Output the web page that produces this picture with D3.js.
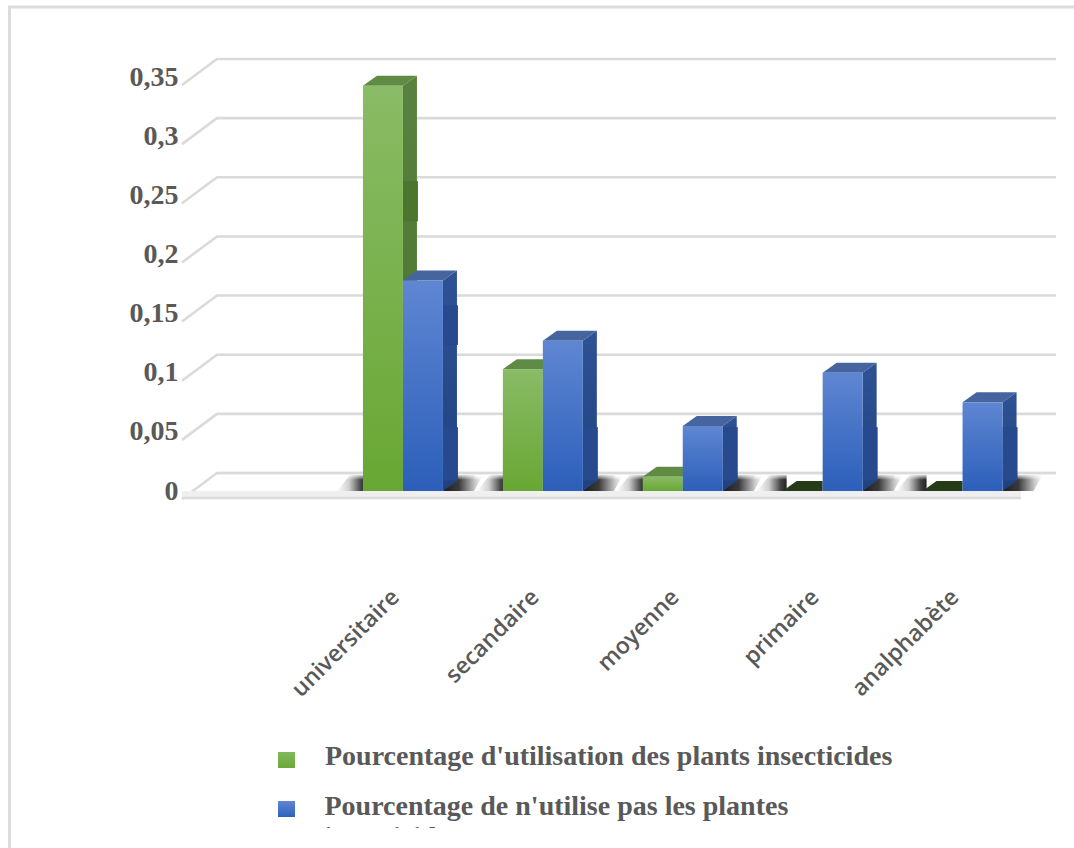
<!DOCTYPE html>
<html><head><meta charset="utf-8">
<script src="https://cdn.jsdelivr.net/npm/d3@7"></script>
<style>html,body{margin:0;padding:0;background:#fff;overflow:hidden}svg{display:block}</style>
</head><body><div id="c"></div>
<script>
const categories = ["universitaire","secandaire","moyenne","primaire","analphabète"];
const usePct = [0.3425,0.103,0.012,0,0];
const noUsePct = [0.178,0.127,0.055,0.1,0.075];
const tickValues = [0,0.05,0.1,0.15,0.2,0.25,0.3,0.35];
const tickLabels = ["0","0,05","0,1","0,15","0,2","0,25","0,3","0,35"];
const legendLines = [["Pourcentage d'utilisation des plants insecticides"],["Pourcentage de n'utilise pas les plantes","insecticides"]];
const seamBands = [[0.228,0.262],[0.1235,0.157],[0.009,0.054]];

const W=1074,H=848;
const svg=d3.select("#c").append("svg").attr("width",W).attr("height",H);
const defs=svg.append("defs");
function grad(id,a,b,x){const g=defs.append("linearGradient").attr("id",id).attr("x1",0).attr("y1",0).attr("x2",x?1:0).attr("y2",x?0:1);
 g.append("stop").attr("offset",0).attr("stop-color",a);g.append("stop").attr("offset",1).attr("stop-color",b);}
function gradMid(id,stops){const g=defs.append("linearGradient").attr("id",id).attr("x1",0).attr("y1",0).attr("x2",1).attr("y2",0);
 stops.forEach(([o,c])=>g.append("stop").attr("offset",o).attr("stop-color",c));}
const styles=[
 {id:"g",front:["#8abb66","#68a733"],side:["#598240","#46722a"],patch:"#4a762d",top:"#5f8b45",vals:usePct,swatch:["#82b85c","#6aa83a"]},
 {id:"b",front:["#5f86d2","#2c5fba"],side:["#2f5296","#1f427f"],patch:"#27498e",top:"#46659f",vals:noUsePct,swatch:["#5f86d2","#2f62bc"]}
];
styles.forEach(s=>{grad(s.id+"f",s.front[0],s.front[1]);grad(s.id+"s",s.side[0],s.side[1]);grad(s.id+"l",s.swatch[0],s.swatch[1]);});
gradMid("shR",[[0,"#1e1e1e"],[0.4,"#3a3a3a"],[0.8,"#c8c8c8"],[1,"#fff"]]);
gradMid("shL",[[0,"#fff"],[0.4,"#d0d0d0"],[0.8,"#444"],[1,"#222"]]);
const fade=defs.append("linearGradient").attr("id","fade").attr("x1",0).attr("y1",0).attr("x2",0).attr("y2",1);
fade.append("stop").attr("offset",0).attr("stop-color","#fff").attr("stop-opacity",0.8);
fade.append("stop").attr("offset",0.3).attr("stop-color","#fff").attr("stop-opacity",0);

// page frame
svg.append("rect").attr("x",9.5).attr("y",7).attr("width",W+20).attr("height",H+20).attr("fill","#fff").attr("stroke","#dcdcdc").attr("stroke-width",3);

const yBack=d3.scaleLinear().domain([0,0.35]).range([473,59]);
const yBar=d3.scaleLinear().domain([0,0.35]).range([491,77]);
const xBand=d3.scaleBand().domain(categories).range([333,1032.5]);
const barW=40,dx=14,dy=10,gridL=217,gridR=1056,diagX=35,diagY=26;

// walls & floor
const grid=svg.append("g").attr("fill","none").attr("stroke","#dadada").attr("stroke-width",2.6);
tickValues.forEach(v=>{
 grid.append("path").attr("d",`M${gridL-diagX},${yBack(v)+diagY}L${gridL},${yBack(v)}L${gridR},${yBack(v)}`);
});
const y0=yBack(0);
svg.append("rect").attr("x",gridL-diagX).attr("y",yBar(0)).attr("width",gridR-gridL).attr("height",7).attr("fill","#efefef");
svg.append("line").attr("x1",gridL-diagX).attr("x2",gridR-diagX).attr("y1",y0+diagY-1).attr("y2",y0+diagY-1).attr("stroke","#dadada").attr("stroke-width",2.4);

// floor shadows
const b0=yBar(0);
categories.forEach(c=>{
 const cx=xBand(c)+xBand.bandwidth()/2;
 const L=cx-barW,R=cx+barW;
 svg.append("path").attr("d",`M${L-26},${b0}L${L-13},${b0-16}L${L+4},${b0-16}L${L+4},${b0}Z`).attr("fill","url(#shL)");
 svg.append("path").attr("d",`M${R},${b0}L${R+14},${b0-16}L${R+40},${b0-16}L${R+31},${b0}Z`).attr("fill","url(#shR)");
 svg.append("rect").attr("x",L-28).attr("y",b0-16).attr("width",barW*2+70).attr("height",16).attr("fill","url(#fade)");
});
svg.append("line").attr("x1",gridL).attr("x2",gridR).attr("y1",y0).attr("y2",y0).attr("stroke","#dadada").attr("stroke-width",2.6);

// bars
const bars=svg.append("g");
categories.forEach((c,i)=>{
 const cx=xBand(c)+xBand.bandwidth()/2;
 styles.forEach((s,k)=>{
  const v=s.vals[i],x=cx-barW+k*barW,top=yBar(v),g=bars.append("g");
  if(v===0){
   g.append("path").attr("d",`M${x},${b0}L${x+dx},${b0-dy}L${x+barW},${b0-dy}L${x+barW},${b0}Z`).attr("fill","#263b18");
   return;
  }
  g.append("path").attr("d",`M${x},${top}L${x+dx},${top-dy}L${x+barW+dx},${top-dy}L${x+barW},${top}Z`).attr("fill",s.top);
  g.append("path").attr("d",`M${x+barW},${top}L${x+barW+dx},${top-dy}L${x+barW+dx},${b0-dy}L${x+barW},${b0}Z`).attr("fill",`url(#${s.id}s)`);
  seamBands.forEach(([lo,hi])=>{
   if(v<hi) return;
   g.append("rect").attr("x",x+barW).attr("y",yBar(hi)).attr("width",dx+1).attr("height",yBar(lo)-yBar(hi)).attr("fill",s.patch);
  });
  g.append("rect").attr("x",x).attr("y",top).attr("width",barW).attr("height",b0-top).attr("fill",`url(#${s.id}f)`);
 });
});

// y labels
svg.append("g").selectAll("text").data(tickValues).join("text")
 .attr("x",178.5).attr("y",(d)=>yBack(d)+26.5).attr("text-anchor","end")
 .attr("font-family","'Liberation Serif',serif").attr("font-weight","bold").attr("font-size",28).attr("fill","#595959")
 .text((d,i)=>tickLabels[i]);

// x labels
svg.append("g").selectAll("text").data(categories).join("text")
 .attr("transform",d=>`translate(${xBand(d)+xBand.bandwidth()/2-17},584) rotate(-45)`)
 .attr("text-anchor","end").attr("dy","0.9em")
 .attr("font-family","'Open Sans',sans-serif").attr("font-weight",600).attr("font-size",23).attr("fill","#595959")
 .text(d=>d);

// legend
defs.append("clipPath").attr("id","lc").append("rect").attr("x",0).attr("y",0).attr("width",W).attr("height",828);
const leg=svg.append("g").attr("clip-path","url(#lc)");
legendLines.forEach((lines,i)=>{
 const y=765+i*50;
 leg.append("rect").attr("x",278).attr("y",y-13+(i?-1:0)).attr("width",17).attr("height",16).attr("fill",`url(#${styles[i].id}l)`);
 lines.forEach((t,j)=>leg.append("text").attr("x",325-(i?0.5:0)).attr("y",y+j*31).attr("font-family","'Liberation Serif',serif").attr("font-weight","bold").attr("font-size",28).attr("fill","#595959").text(t));
});
</script></body></html>
